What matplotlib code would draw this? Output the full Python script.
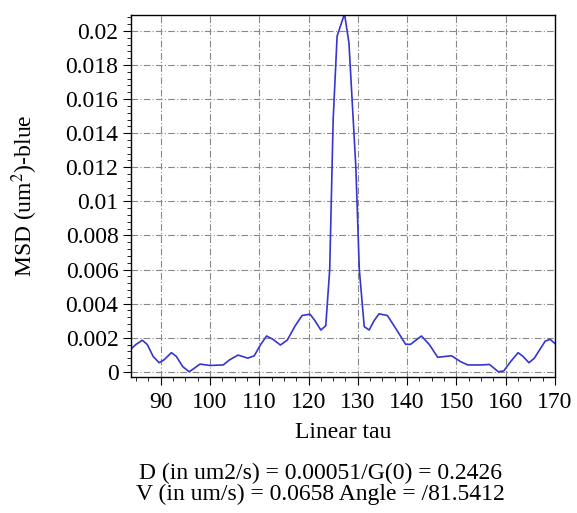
import matplotlib
matplotlib.use("Agg")
import matplotlib.pyplot as plt
from matplotlib.ticker import MultipleLocator, AutoMinorLocator, FuncFormatter

# MSD curve (tau, MSD in um^2)
tau = [84.0, 85.0, 86.3, 87.3, 88.5, 89.7, 90.7, 92.2, 93.2, 94.5, 95.8, 96.8,
       98.0, 100.0, 102.7, 104.0, 105.7, 107.7, 109.0, 110.3, 111.5, 112.8, 114.3,
       115.7, 117.3, 118.7, 120.3, 121.3, 122.5, 123.5, 124.3, 125.0, 125.8, 127.3,
       128.2, 129.6, 130.3, 131.3, 132.3, 133.3, 134.3, 136.0, 138.0, 139.7, 140.7,
       142.9, 144.5, 146.2, 149.0, 150.8, 152.3, 155.0, 156.7, 158.5, 159.6, 161.0,
       162.5, 163.5, 164.7, 165.8, 168.0, 169.0, 170.0]
msd = [0.00134, 0.00160, 0.00185, 0.00160, 0.00090, 0.00053, 0.00070, 0.00112, 0.00090,
       0.00030, 0.00000, 0.00020, 0.00045, 0.00037, 0.00040, 0.00070, 0.00098, 0.00080,
       0.00094, 0.00160, 0.00210, 0.00190, 0.00157, 0.00186, 0.00270, 0.00330, 0.00338,
       0.00300, 0.00245, 0.00270, 0.00600, 0.01480, 0.01970, 0.02100, 0.01930, 0.01200,
       0.00600, 0.00265, 0.00245, 0.00300, 0.00340, 0.00330, 0.00240, 0.00161, 0.00161,
       0.00210, 0.00160, 0.00085, 0.00094, 0.00060, 0.00040, 0.00040, 0.00043, 0.00000,
       0.00005, 0.00060, 0.00112, 0.00090, 0.00053, 0.00080, 0.00180, 0.00190, 0.00165]

xlabel = "Linear tau"
ylabel = "MSD (um$^2$)-blue"
info_lines = ["D (in um2/s) = 0.00051/G(0) = 0.2426",
              "V (in um/s) = 0.0658 Angle = /81.5412"]

FS = 17

plt.rcParams["font.family"] = ["Liberation Serif", "DejaVu Serif"]
plt.rcParams["mathtext.fontset"] = "stix"

fig = plt.figure(figsize=(5.77, 5.13), dpi=100)
ax = fig.add_axes([0.227, 0.265, 0.735, 0.706])

ax.plot(tau, msd, color="#3535d0", lw=1.2)

ax.set_xlim(84, 170)
ax.set_ylim(-0.00031, 0.02094)
ax.xaxis.set_major_locator(MultipleLocator(10))
ax.xaxis.set_minor_locator(AutoMinorLocator(4))
ax.yaxis.set_major_locator(MultipleLocator(0.002))
ax.yaxis.set_minor_locator(AutoMinorLocator(5))
ax.yaxis.set_major_formatter(FuncFormatter(lambda v, p: "0" if abs(v) < 1e-12 else f"{v:g}"))

ax.grid(True, which="major", color="#888888", lw=0.8, linestyle=(0, (6, 2, 1, 2)))
ax.tick_params(which="major", length=6, width=0.8, labelsize=FS, colors="black", pad=3)
ax.tick_params(which="minor", length=3, width=0.6)
ax.tick_params(axis="x", pad=5)
for s in ax.spines.values():
    s.set_linewidth(1.0)

ax.set_xlabel(xlabel, fontsize=FS, labelpad=6)
ax.set_ylabel(ylabel, fontsize=FS)
ax.yaxis.set_label_coords(-0.215, 0.5)

fig.text(0.556, 0.0663, info_lines[0], ha="center", va="baseline", fontsize=FS)
fig.text(0.556, 0.0253, info_lines[1], ha="center", va="baseline", fontsize=FS)

fig.savefig("out.png", dpi=100)
